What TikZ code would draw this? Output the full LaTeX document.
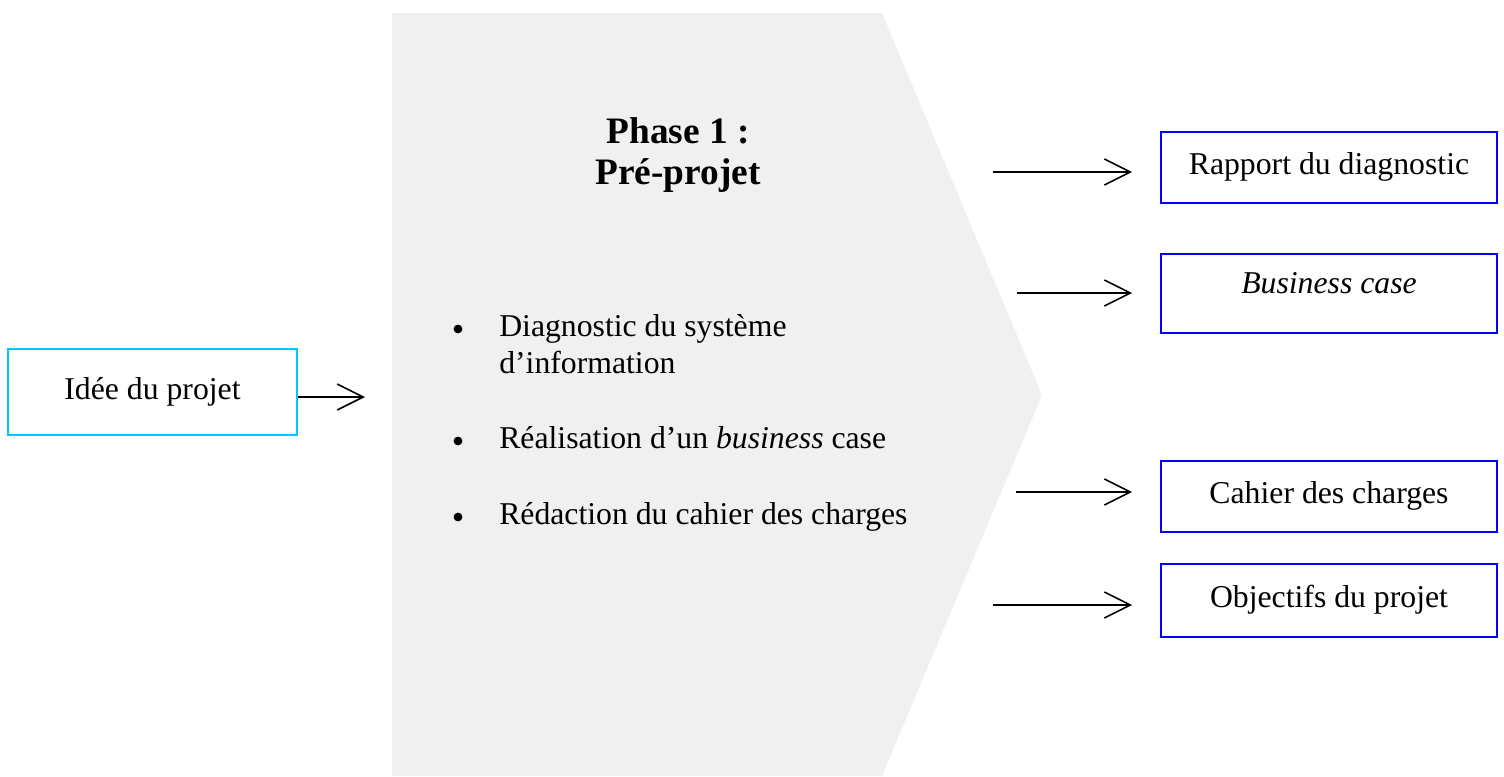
\documentclass[tikz,border=0pt]{standalone}
\usepackage{fontspec}
\setmainfont{Liberation Serif}
\usetikzlibrary{arrows.meta}
\definecolor{phasegrey}{HTML}{F0F0F0}
\definecolor{outblue}{HTML}{0000FF}
\definecolor{incyan}{HTML}{00C8FF}
\newcommand{\bodysize}{\fontsize{23.8}{27.5}\selectfont}
\newcommand{\titlesize}{\fontsize{28}{30.75}\selectfont\bfseries}

\begin{document}
\begin{tikzpicture}[x=0.75pt,y=-0.75pt,
  every node/.style={font=\bodysize},
  boxbase/.style={rectangle, line width=1.3pt, inner sep=0pt,
    text height=16.7pt, text depth=6pt},
  outbox/.style={boxbase, draw=outblue, minimum width=252pt},
  inbox/.style={boxbase, draw=incyan, minimum width=216.75pt, minimum height=64.5pt},
  arr/.style={line width=1.2pt, -{Straight Barb[length=19.5pt,width=19.5pt]}},
  bullettext/.style={anchor=base west, inner sep=0pt},
  bulletmark/.style={circle, fill=black, minimum size=6.6pt, inner sep=0pt},
  title/.style={font=\titlesize, align=center, anchor=base, inner sep=0pt}
]
\useasboundingbox (0,0) rectangle (1504,776);

% phase chevron
\fill[phasegrey] (392,13) -- (882,13) -- (1042,395) -- (882,776) -- (392,776) -- cycle;

% phase title (base anchor sits on the last line)
\node[title] (phasetitle) at (678,184) {Phase 1 :\\Pré-projet};

% activities of the phase
\node[bulletmark] (m1) at (458,329) {};
\node[bullettext] (t1a) at (499,336) {Diagnostic du système};
\node[bullettext] (t1b) at (499,373) {d’information};
\node[bulletmark] (m2) at (458,441) {};
\node[bullettext] (t2) at (499,448) {Réalisation d’un \textit{business} case};
\node[bulletmark] (m3) at (458,517) {};
\node[bullettext] (t3) at (499,524) {Rédaction du cahier des charges};

% input
\node[inbox] (idee) at (152.5,392) {Idée du projet};
\coordinate (in1) at (365,397);
\draw[arr] (in1 -| idee.east) -- (in1);

% outputs
\node[outbox, minimum height=53.25pt] (rapport) at (1329,167.5) {Rapport du diagnostic};
\node[outbox, minimum height=59.25pt, text depth=17.4pt] (business) at (1329,293.5) {\textit{Business case}};
\node[outbox, minimum height=53.25pt] (cahier) at (1329,496.5) {Cahier des charges};
\node[outbox, minimum height=54.75pt] (objectifs) at (1329,600.5) {Objectifs du projet};

\coordinate (s1) at (993,172);
\coordinate (s2) at (1017,293);
\coordinate (s3) at (1016,492);
\coordinate (s4) at (993,605);
\draw[arr, shorten >=21pt] (s1) -- (s1 -| rapport.west);
\draw[arr, shorten >=21pt] (s2) -- (s2 -| business.west);
\draw[arr, shorten >=21pt] (s3) -- (s3 -| cahier.west);
\draw[arr, shorten >=21pt] (s4) -- (s4 -| objectifs.west);
\end{tikzpicture}
\end{document}
